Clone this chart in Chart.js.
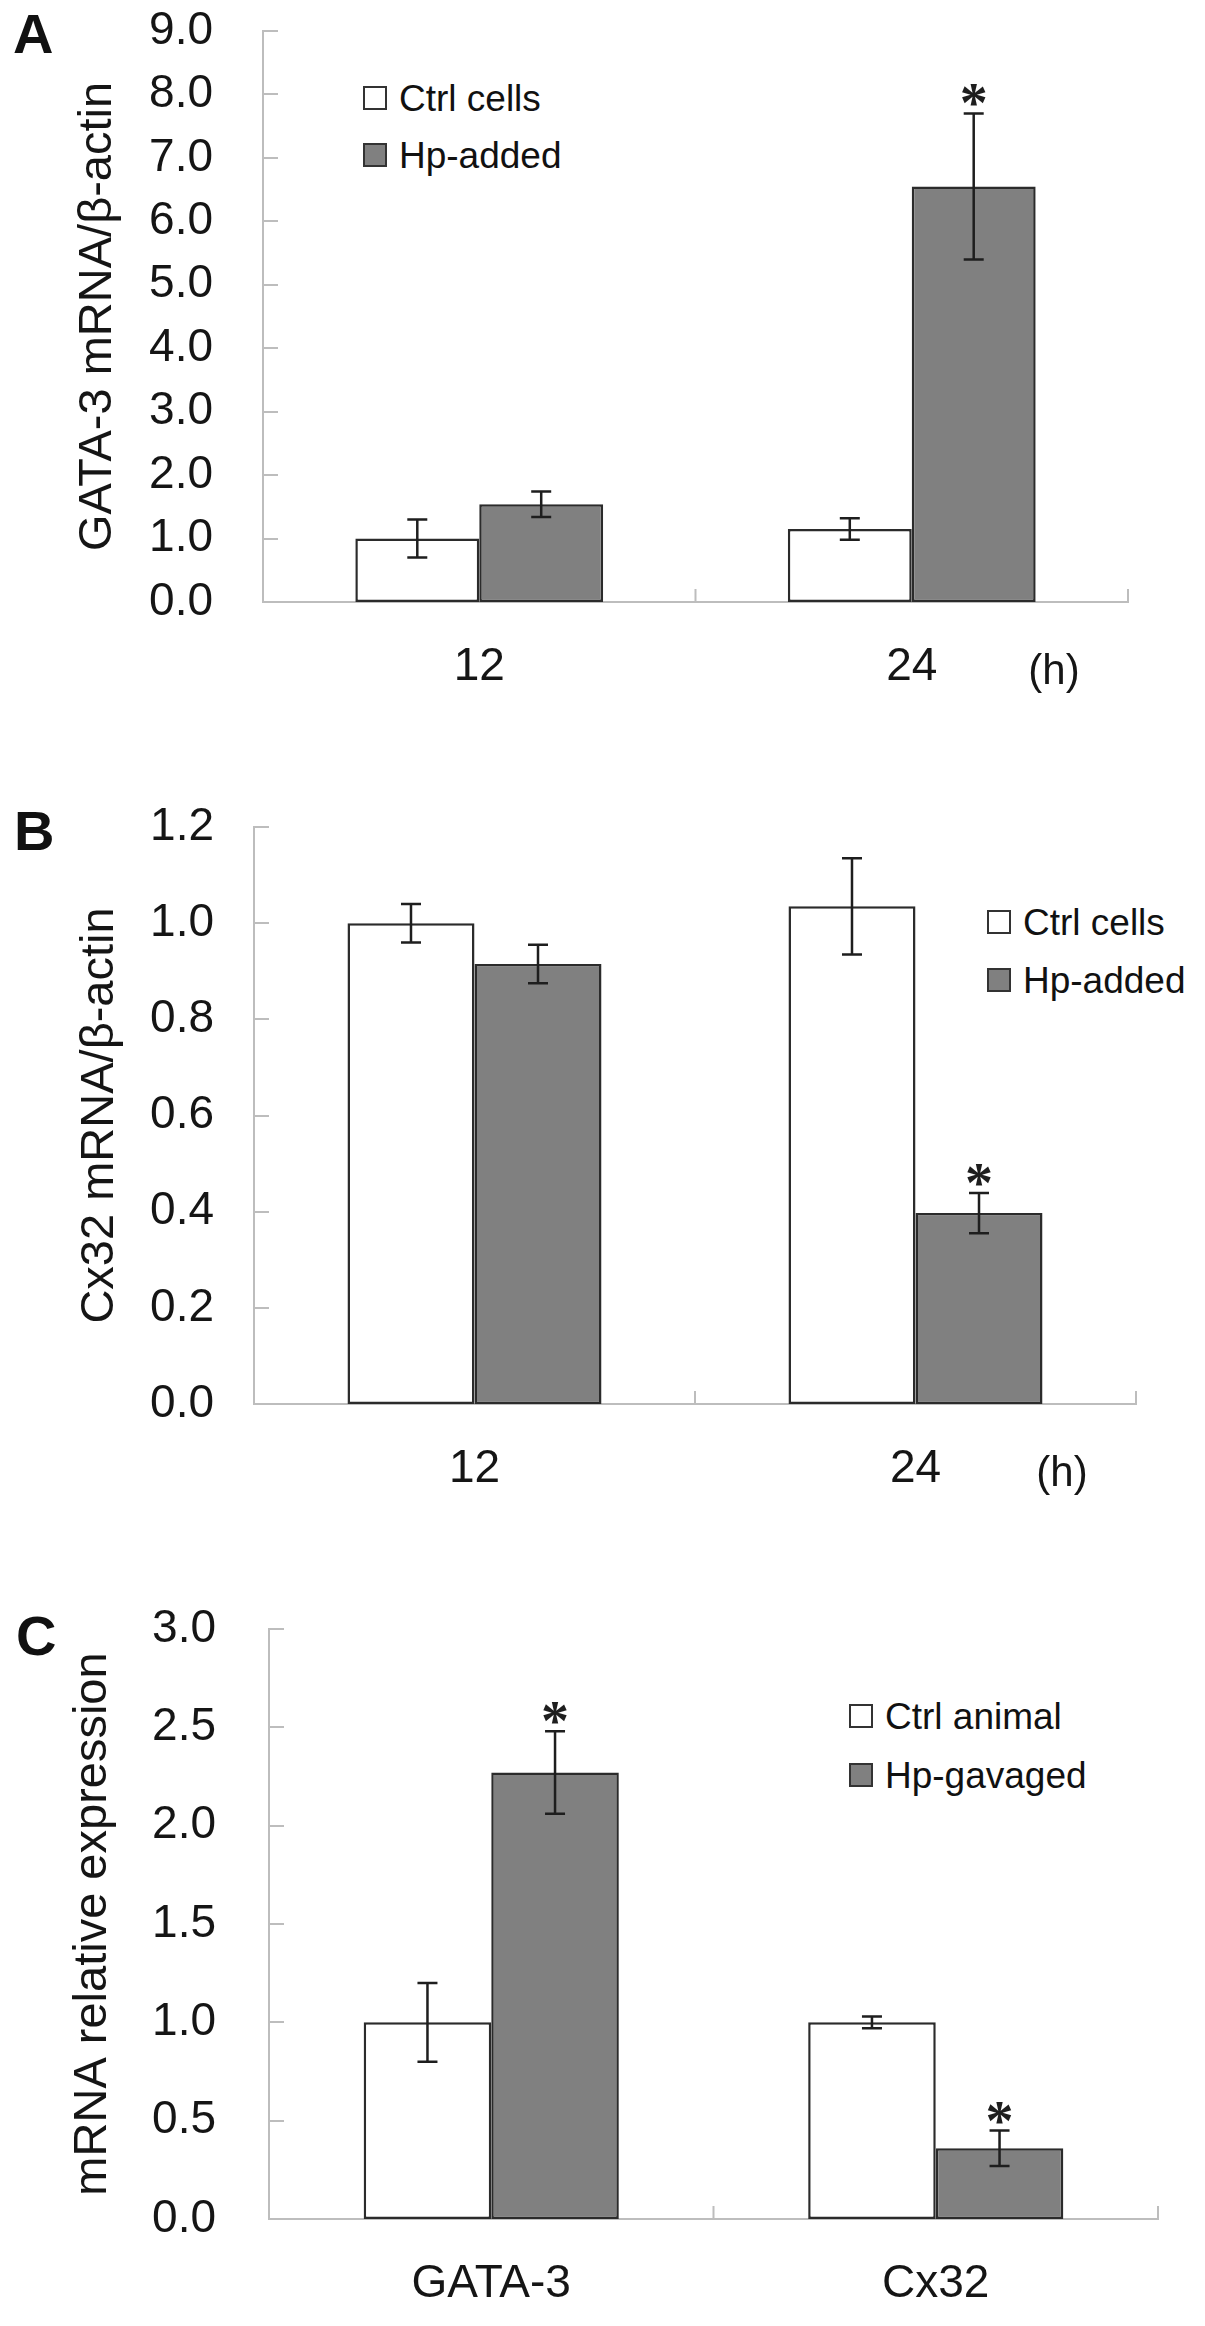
<!DOCTYPE html>
<html>
<head>
<meta charset="utf-8">
<script src="https://cdn.jsdelivr.net/npm/chart.js@4.4.1/dist/chart.umd.min.js"></script>
<style>
  body { margin: 0; background: #fff; width: 1205px; height: 2326px; position: relative; overflow: hidden;
         font-family: 'Liberation Sans', Arial, sans-serif; color: #111; }
  canvas { position: absolute; left: 0; }
  .letter { position: absolute; font-weight: bold; font-size: 56px; line-height: 1; }
  .row { position: absolute; display: flex; align-items: center; height: 24px; font-size: 37px; line-height: 1; white-space: nowrap; }
  .swatch { width: 20px; height: 20px; border: 2px solid #333; margin-right: 12px; box-sizing: content-box; }
</style>
</head>
<body>
<div class="letter" style="left:13px;top:6px">A</div>
<div class="letter" style="left:14px;top:803px">B</div>
<div class="letter" style="left:16px;top:1608px">C</div>

<div class="row" style="left:363px;top:86px"><div class="swatch" style="background:#fff"></div>Ctrl cells</div>
<div class="row" style="left:363px;top:143px"><div class="swatch" style="background:#808080"></div>Hp-added</div>
<div class="row" style="left:987px;top:910px"><div class="swatch" style="background:#fff"></div>Ctrl cells</div>
<div class="row" style="left:987px;top:968px"><div class="swatch" style="background:#808080"></div>Hp-added</div>
<div class="row" style="left:849px;top:1704px"><div class="swatch" style="background:#fff"></div>Ctrl animal</div>
<div class="row" style="left:849px;top:1763px"><div class="swatch" style="background:#808080"></div>Hp-gavaged</div>

<script>
// categories
const timeLabels = ['12', '24'];
const geneLabels = ['GATA-3', 'Cx32'];

// panel A: GATA-3 mRNA in cells
const gataCtrl = [1.0, 1.15];
const gataCtrlErr = [0.3, 0.17];
const gataHp = [1.54, 6.55];
const gataHpErr = [0.2, 1.15];
const gataHpSig = [false, true];

// panel B: Cx32 mRNA in cells
const cx32Ctrl = [1.0, 1.035];
const cx32CtrlErr = [0.04, 0.1];
const cx32Hp = [0.915, 0.397];
const cx32HpErr = [0.04, 0.042];
const cx32HpSig = [false, true];

// panel C: animals
const animalCtrl = [1.0, 1.0];
const animalCtrlErr = [0.2, 0.03];
const animalHp = [2.27, 0.36];
const animalHpErr = [0.21, 0.09];
const animalHpSig = [true, true];

// y axis ranges (tick labels)
const yMaxA = 9, yStepA = 1;
const yMaxB = 1.2, yStepB = 0.2;
const yMaxC = 3, yStepC = 0.5;

const axisGray = '#bdbdbd';
const textColor = '#151515';

Chart.defaults.font.family = "'Liberation Sans', Arial, sans-serif";
Chart.defaults.color = textColor;

// inside tick marks on the y axis, category dividers on the x axis, unit label
const axisMarks = {
    id: 'axisMarks',
    afterDraw(chart, args, opts) {
        const { ctx, chartArea: a, scales: { x, y } } = chart;
        ctx.save();
        ctx.strokeStyle = axisGray;
        ctx.lineWidth = 2;
        ctx.beginPath();
        y.ticks.forEach(t => {
            const py = Math.round(y.getPixelForValue(t.value));
            ctx.moveTo(a.left, py);
            ctx.lineTo(a.left + 15, py);
        });
        const n = x.ticks.length;
        for (let i = 1; i <= n; i++) {
            const px = i < n ? (x.getPixelForTick(i - 1) + x.getPixelForTick(i)) / 2 : a.right;
            ctx.moveTo(px, a.bottom);
            ctx.lineTo(px, a.bottom - 13);
        }
        ctx.stroke();
        if (opts.unit) {
            ctx.fillStyle = textColor;
            ctx.font = "42px 'Liberation Sans', Arial, sans-serif";
            ctx.textAlign = 'center';
            ctx.textBaseline = 'middle';
            ctx.fillText(opts.unit, a.right - 74, a.bottom + 70);
        }
        ctx.restore();
    }
};

// error bars and significance stars
const errorBars = {
    id: 'errorBars',
    afterDatasetsDraw(chart) {
        const { ctx, scales: { y } } = chart;
        ctx.save();
        chart.data.datasets.forEach((ds, i) => {
            chart.getDatasetMeta(i).data.forEach((bar, j) => {
                const top = y.getPixelForValue(ds.data[j] + ds.err[j]);
                const bot = y.getPixelForValue(ds.data[j] - ds.err[j]);
                ctx.strokeStyle = '#1e1e1e';
                ctx.lineWidth = 2.5;
                ctx.beginPath();
                ctx.moveTo(bar.x, top); ctx.lineTo(bar.x, bot);
                ctx.moveTo(bar.x - 10, top); ctx.lineTo(bar.x + 10, top);
                ctx.moveTo(bar.x - 10, bot); ctx.lineTo(bar.x + 10, bot);
                ctx.stroke();
                if (ds.sig && ds.sig[j]) {
                    ctx.fillStyle = '#1e1e1e';
                    ctx.font = "bold 56px 'Liberation Serif', serif";
                    ctx.textAlign = 'center';
                    ctx.textBaseline = 'alphabetic';
                    const m = ctx.measureText('*');
                    const cy = top - 18;
                    ctx.fillText('*', bar.x, cy + (m.actualBoundingBoxAscent - m.actualBoundingBoxDescent) / 2);
                }
            });
        });
        ctx.restore();
    }
};

function makePanel(o) {
    const canvas = document.createElement('canvas');
    canvas.width = 1205;
    canvas.height = o.height;
    canvas.style.top = o.top + 'px';
    document.body.appendChild(canvas);
    const [left, top, right, bottom] = o.area;

    return new Chart(canvas, {
        type: 'bar',
        data: {
            labels: o.labels,
            datasets: [
                { label: o.names[0], data: o.ctrl, err: o.ctrlErr, backgroundColor: '#ffffff',
                  borderColor: '#2b2b2b', borderWidth: 2.5, borderSkipped: false },
                { label: o.names[1], data: o.hp, err: o.hpErr, sig: o.hpSig, backgroundColor: '#808080',
                  borderColor: '#2b2b2b', borderWidth: 2.5, borderSkipped: false }
            ]
        },
        options: {
            responsive: false,
            animation: false,
            devicePixelRatio: 1,
            layout: { padding: { left: 0, top: top - o.top, right: 1205 - right, bottom: 0 } },
            datasets: { bar: { categoryPercentage: o.catPct, barPercentage: 1 } },
            plugins: {
                legend: { display: false },
                tooltip: { enabled: false },
                axisMarks: { unit: o.unit }
            },
            scales: {
                x: {
                    grid: { display: false, drawTicks: false },
                    border: { display: true, color: axisGray, width: 2 },
                    ticks: { font: { size: 46 }, color: textColor, padding: 38 },
                    afterFit: s => { s.height = o.top + o.height - bottom; }
                },
                y: {
                    min: 0,
                    max: o.yMax,
                    grid: { display: false, drawTicks: false },
                    border: { display: true, color: axisGray, width: 2 },
                    ticks: { stepSize: o.yStep, padding: o.tickPad, font: { size: 46 }, color: textColor,
                             callback: v => v.toFixed(1) },
                    title: { display: true, text: o.yTitle, font: { size: 47 }, color: textColor,
                             padding: { top: o.titlePad, bottom: 0 } },
                    afterFit: s => { s.width = left; }
                }
            }
        },
        plugins: [axisMarks, errorBars]
    });
}

// canvas starts above the page so the top tick label has room
makePanel({
    top: -50, height: 770, area: [263, 31, 1128, 602],
    labels: timeLabels, names: ['Ctrl cells', 'Hp-added'],
    ctrl: gataCtrl, ctrlErr: gataCtrlErr, hp: gataHp, hpErr: gataHpErr, hpSig: gataHpSig,
    yMax: yMaxA, yStep: yStepA, tickPad: 50, titlePad: 70, catPct: 0.573,
    yTitle: 'GATA-3 mRNA/β-actin', unit: '(h)'
});

makePanel({
    top: 720, height: 800, area: [254, 827, 1136, 1404],
    labels: timeLabels, names: ['Ctrl cells', 'Hp-added'],
    ctrl: cx32Ctrl, ctrlErr: cx32CtrlErr, hp: cx32Hp, hpErr: cx32HpErr, hpSig: cx32HpSig,
    yMax: yMaxB, yStep: yStepB, tickPad: 40, titlePad: 72, catPct: 0.576,
    yTitle: 'Cx32 mRNA/β-actin', unit: '(h)'
});

makePanel({
    top: 1520, height: 806, area: [269, 1629, 1158, 2219],
    labels: geneLabels, names: ['Ctrl animal', 'Hp-gavaged'],
    ctrl: animalCtrl, ctrlErr: animalCtrlErr, hp: animalHp, hpErr: animalHpErr, hpSig: animalHpSig,
    yMax: yMaxC, yStep: yStepC, tickPad: 53, titlePad: 65, catPct: 0.574,
    yTitle: 'mRNA relative expression'
});
</script>
</body>
</html>
